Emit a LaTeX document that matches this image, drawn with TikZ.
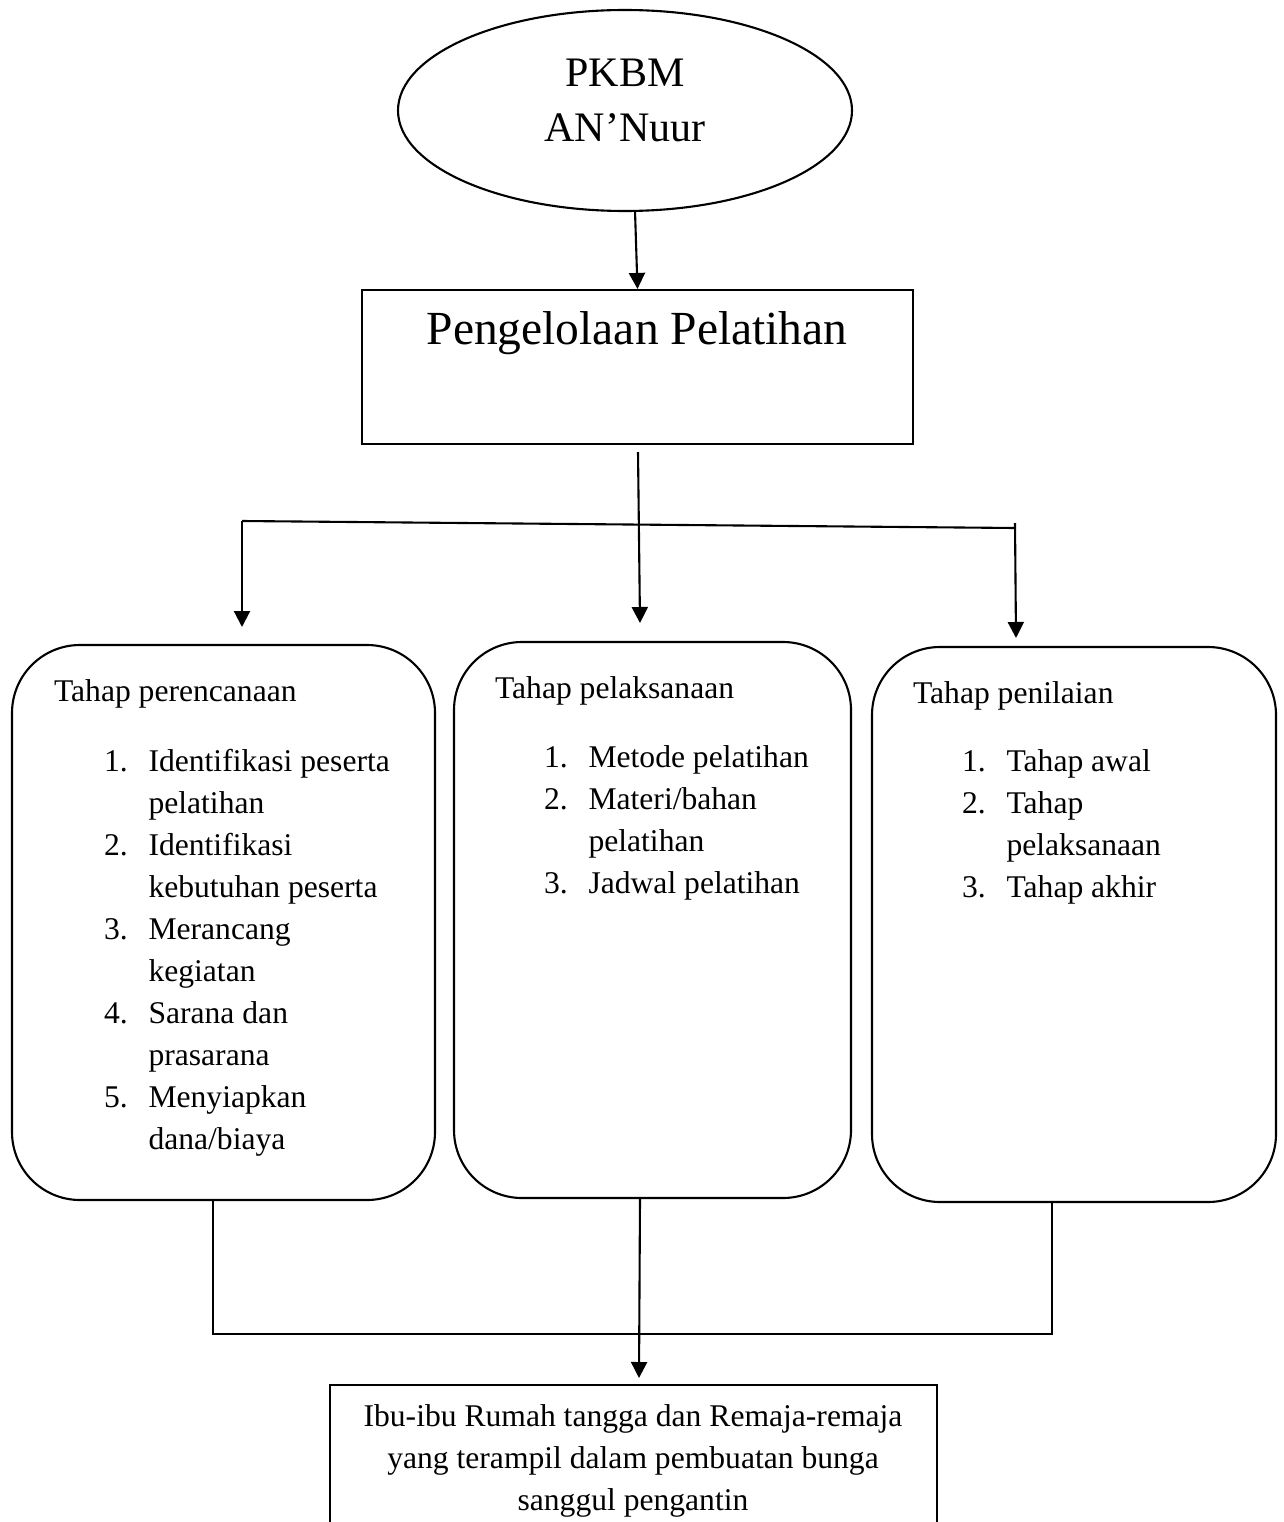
\documentclass[tikz,border=0pt]{standalone}
\usepackage{fontspec}
\setmainfont{Liberation Serif}
\usetikzlibrary{arrows.meta,shapes.geometric}
\begin{document}
\begin{tikzpicture}[x=1pt,y=-1pt,
  line width=2.1pt,
  arr/.style={-{Triangle[length=16pt,width=16pt]}},
  rbox/.style={draw, rectangle, rounded corners=68pt, inner sep=0pt},
  sbox/.style={draw, rectangle, inner sep=0pt},
  body/.style={inner sep=0pt, font=\fontsize{31.6}{42}\selectfont},
  lst/.style={body, anchor=base west},
]
\useasboundingbox (0,0) rectangle (1283,1522);
\clip (0,0) rectangle (1283,1522);

% top ellipse
\node[draw, ellipse, minimum width=454pt, minimum height=201pt, inner sep=0pt] (e) at (625,110.5) {};
\node[font=\fontsize{42}{55}\selectfont, align=center, anchor=base, inner sep=0pt] (et) at (625,142) {PKBM\\AN’Nuur};

% management box
\node[sbox, minimum width=551pt, minimum height=154pt] (pp) at (637.5,367) {};
\node[font=\fontsize{47.5}{57}\selectfont, anchor=base, inner sep=0pt] (ppt) at (637,344) {Pengelolaan Pelatihan};

% three stage boxes
\node[rbox, minimum width=423pt, minimum height=555pt] (b1) at (223.5,922.5) {};
\node[rbox, minimum width=397pt, minimum height=556pt] (b2) at (652.5,920) {};
\node[rbox, minimum width=404pt, minimum height=555pt] (b3) at (1074,924.5) {};

\node[lst] (t1) at (53,701) {Tahap perencanaan};
\node[lst] (t2) at (494,698) {Tahap pelaksanaan};
\node[lst] (t3) at (912,703) {Tahap penilaian};

\node[lst] (l1) at (103,771) {\begin{tabular}[t]{@{}p{44.5pt}@{}l@{}}
1. & Identifikasi peserta\\
   & pelatihan\\
2. & Identifikasi\\
   & kebutuhan peserta\\
3. & Merancang\\
   & kegiatan\\
4. & Sarana dan\\
   & prasarana\\
5. & Menyiapkan\\
   & dana/biaya
\end{tabular}};
\node[lst] (l2) at (543,767) {\begin{tabular}[t]{@{}p{44.5pt}@{}l@{}}
1. & Metode pelatihan\\
2. & Materi/bahan\\
   & pelatihan\\
3. & Jadwal pelatihan
\end{tabular}};
\node[lst] (l3) at (961,771) {\begin{tabular}[t]{@{}p{44.5pt}@{}l@{}}
1. & Tahap awal\\
2. & Tahap\\
   & pelaksanaan\\
3. & Tahap akhir
\end{tabular}};

% outcome box
\node[sbox, minimum width=607pt, minimum height=220pt] (out) at (633.5,1495) {};
\node[body, align=center, anchor=base] (outt) at (633,1510) {Ibu-ibu Rumah tangga dan Remaja-remaja\\yang terampil dalam pembuatan bunga\\sanggul pengantin};

% connectors top
\coordinate (a0) at (635,211);
\draw[arr] (a0) -- (pp.north);
\coordinate (j1) at (638,452);
\coordinate (j2) at (640,623);
\coordinate (hl) at (242,521);
\coordinate (hr) at (1015,528);
\coordinate (hr0) at (1015,523);
\coordinate (tl) at (242,627);
\coordinate (tr) at (1016,638);
\draw[arr] (j1) -- (j2);
\draw (hl) -- (hr);
\draw[arr] (hl) -- (tl);
\draw[arr] (hr0) -- (tr);

% connectors bottom
\coordinate (q0) at (213,1200);
\coordinate (q1) at (213,1334);
\coordinate (q2) at (1052,1334);
\coordinate (q3) at (1052,1203);
\draw (q0) -- (q1) -- (q2) -- (q3);
\coordinate (m0) at (640,1198);
\coordinate (m1) at (639,1378);
\draw[arr] (m0) -- (m1);
\end{tikzpicture}
\end{document}
